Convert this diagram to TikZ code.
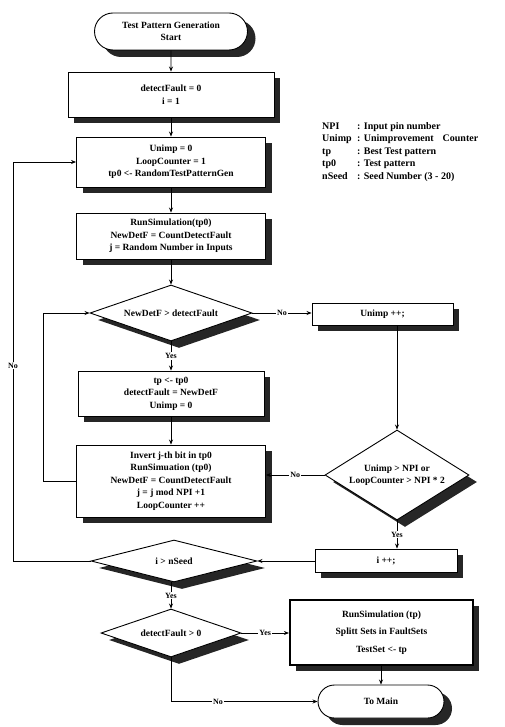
\documentclass[tikz,border=0pt]{standalone}
\usepackage{fontspec}
\setmainfont{Liberation Serif}
\usetikzlibrary{shapes.geometric,shapes.misc,shadows,arrows.meta}

\begin{document}
\begin{tikzpicture}[x=1pt,y=-1pt,>={Stealth[length=5pt,width=4pt]},
  every node/.style={font=\bfseries\fontsize{9.5}{12.5}\selectfont, align=center, inner sep=1pt},
  proc/.style={draw, line width=0.9pt, fill=white, drop shadow={shadow xshift=6pt, shadow yshift=-6pt, fill=black!85, opacity=1}},
  term/.style={rounded rectangle, draw, line width=0.9pt, fill=white, drop shadow={shadow xshift=8pt, shadow yshift=-7pt, fill=black!85, opacity=1}},
  test/.style={diamond, draw, line width=0.9pt, fill=white, inner sep=0pt, drop shadow={shadow xshift=8pt, shadow yshift=-7pt, fill=black!85, opacity=1}},
  lbl/.style={fill=white, inner sep=1pt, font=\bfseries\fontsize{8}{9}\selectfont},
  legend/.style={anchor=west, inner sep=0pt, font=\bfseries\fontsize{10}{12}\selectfont},
  flow/.style={->, line width=0.7pt}]

\useasboundingbox (0,0) rectangle (505,727);

% main column
\node[term, minimum width=155pt, minimum height=37pt] (start) at (171,31.5) {Test Pattern Generation\\Start};
\node[proc, minimum width=206pt, minimum height=45pt] (init) at (171,94.5) {detectFault = 0\\i = 1};
\node[proc, minimum width=189pt, minimum height=50pt] (reset) at (171,162) {Unimp = 0\\LoopCounter = 1\\tp0 <- RandomTestPatternGen};
\node[proc, minimum width=189pt, minimum height=46pt] (sim) at (171,236) {RunSimulation(tp0)\\NewDetF = CountDetectFault\\j = Random Number in Inputs};
\node[test, aspect=2.9, minimum width=162pt, minimum height=56pt] (better) at (171,313) {NewDetF > detectFault};
\node[proc, minimum width=186pt, minimum height=45pt] (keep) at (171,393.5) {tp <- tp0\\detectFault = NewDetF\\Unimp = 0};
\node[proc, minimum width=189pt, minimum height=72pt] (flip) at (171,481) {Invert j-th bit in tp0\\RunSimuation (tp0)\\NewDetF = CountDetectFault\\j = j mod NPI +1\\LoopCounter ++};
\node[test, aspect=4, minimum width=166pt, minimum height=42pt] (seeds) at (174,561) {i > nSeed};
\node[test, aspect=2.9, minimum width=140pt, minimum height=48pt] (found) at (171,633) {detectFault > 0};

% right column
\node[proc, minimum width=141pt, minimum height=22pt] (unimp) at (382.5,314) {Unimp ++;};
\node[test, aspect=1.6, minimum width=144pt, minimum height=90pt] (stuck) at (397,475) {Unimp > NPI or\\LoopCounter > NPI * 2};
\node[proc, minimum width=142pt, minimum height=23pt] (next) at (386,560.5) {i ++;};
\node[proc, line width=2.2pt, minimum width=183pt, minimum height=65pt] (final) at (381.5,632.5) {RunSimulation (tp)\\[5pt]Splitt Sets in FaultSets\\[5pt]TestSet <- tp};
\node[term, minimum width=128pt, minimum height=33pt] (main) at (381,701.5) {To Main};

% legend
\node[legend] (lgnpi) at (322,127) {\makebox[35pt][l]{NPI}: Input pin number};
\node[legend] (lgunimp) at (322,139.5) {\makebox[35pt][l]{Unimp}: Unimprovement\hspace{9pt}Counter};
\node[legend] (lgtp) at (322,152) {\makebox[35pt][l]{tp}: Best Test pattern};
\node[legend] (lgtpz) at (322,164.5) {\makebox[35pt][l]{tp0}: Test pattern};
\node[legend] (lgseed) at (322,177) {\makebox[35pt][l]{nSeed}: Seed Number (3 - 20)};

% loop lines
\coordinate (inner) at (43,0);
\coordinate (outer) at (13,0);

\draw[flow] (start) -- (init);
\draw[flow] (init) -- (reset);
\draw[flow] (reset) -- (sim);
\draw[flow] (sim) -- (better);
\draw[flow] (better) -- node[lbl]{Yes} (keep);
\draw[flow] (keep) -- (flip);
\draw[flow] (flip.west) -- (flip.west -| inner) -- (better.west -| inner) -- (better.west);
\draw[flow] (better.east) -- node[lbl]{No} (better.east -| unimp.west);
\draw[flow] (unimp.south -| stuck.north) -- (stuck.north);
\draw[flow] (stuck.west) -- node[lbl]{No} (stuck.west -| flip.east);
\draw[flow] (stuck.south) -- node[lbl]{Yes} (stuck.south |- next.north);
\draw[flow] (seeds.east -| next.west) -- (seeds.east);
\draw[flow] (seeds.west) -- (seeds.west -| outer) -- node[lbl, pos=0.49]{No} (reset.west -| outer) -- (reset.west);
\draw[flow] (seeds.south -| found.north) -- node[lbl]{Yes} (found.north);
\draw[flow] (found.east) -- node[lbl]{Yes} (found.east -| final.west);
\draw[flow] (final.south -| main.north) -- (main.north);
\draw[flow] (found.south) |- node[lbl, pos=0.66]{No} (main.west);
\end{tikzpicture}
\end{document}
